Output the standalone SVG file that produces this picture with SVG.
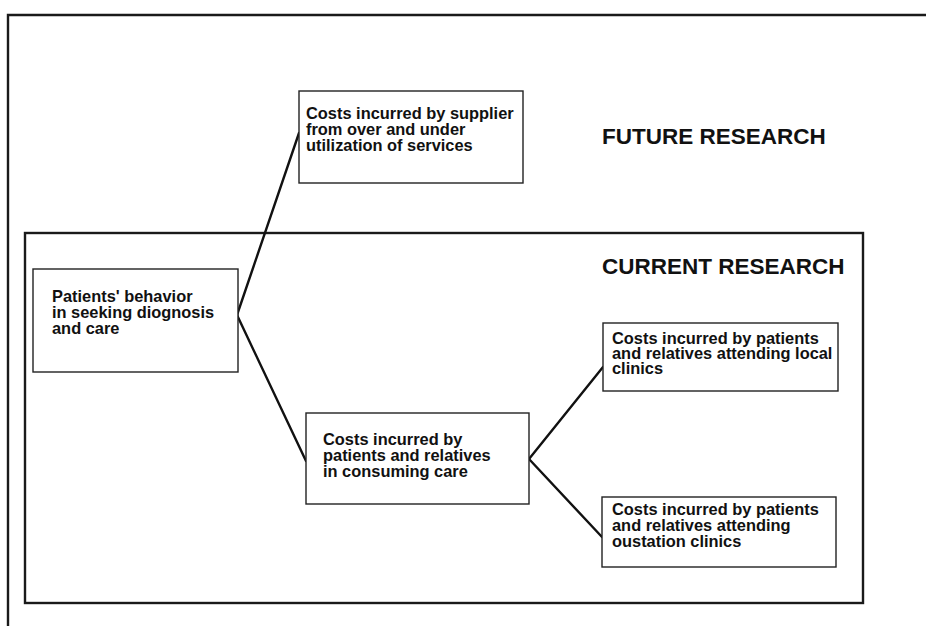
<svg xmlns="http://www.w3.org/2000/svg" width="926" height="626" viewBox="0 0 926 626">
  <style>
    .frame { fill: none; stroke: #1a1a1a; stroke-width: 2.4; }
    .box { fill: #ffffff; stroke: #222; stroke-width: 1.4; }
    .link { fill: none; stroke: #111; stroke-width: 2.4; stroke-linecap: round; }
    .lbl { font-family: "Liberation Sans", Arial, sans-serif; font-weight: bold; font-size: 16.4px; fill: #111; }
    .head { font-family: "Liberation Sans", Arial, sans-serif; font-weight: bold; font-size: 22.5px; fill: #111; }
  </style>
  <rect width="926" height="626" fill="#ffffff"/>

  <!-- outer frame (open on right and bottom) -->
  <polyline class="frame" points="8,626 8,15 926,15"/>
  <!-- current research frame -->
  <rect id="current-frame" class="frame" x="25" y="233" width="838" height="370"/>

  <text class="head" x="602" y="144">FUTURE RESEARCH</text>
  <text class="head" x="602" y="274">CURRENT RESEARCH</text>

  <g id="connectors">
    <line class="link" x1="237" y1="315" x2="299" y2="133"/>
    <line class="link" x1="237" y1="315" x2="306" y2="461"/>
    <line class="link" x1="529" y1="459" x2="603" y2="367"/>
    <line class="link" x1="529" y1="459" x2="602" y2="537"/>
  </g>

  <g id="supplier">
    <rect class="box" x="299" y="91" width="224" height="92"/>
    <text class="lbl" x="306" y="119">Costs incurred by supplier</text>
    <text class="lbl" x="306" y="135">from over and under</text>
    <text class="lbl" x="306" y="151">utilization of services</text>
  </g>

  <g id="patients">
    <rect class="box" x="33" y="269" width="205" height="103"/>
    <text class="lbl" x="52" y="301.5">Patients' behavior</text>
    <text class="lbl" x="52" y="318">in seeking diognosis</text>
    <text class="lbl" x="52" y="334">and care</text>
  </g>

  <g id="consuming">
    <rect class="box" x="306" y="413" width="223" height="91"/>
    <text class="lbl" x="323" y="445">Costs incurred by</text>
    <text class="lbl" x="323" y="461">patients and relatives</text>
    <text class="lbl" x="323" y="476.5">in consuming care</text>
  </g>

  <g id="local">
    <rect class="box" x="603" y="323" width="235" height="68"/>
    <text class="lbl" x="612" y="343.5">Costs incurred by patients</text>
    <text class="lbl" x="612" y="358.5">and relatives attending local</text>
    <text class="lbl" x="612" y="374">clinics</text>
  </g>

  <g id="outstation">
    <rect class="box" x="602" y="497" width="234" height="70"/>
    <text class="lbl" x="612" y="515">Costs incurred by patients</text>
    <text class="lbl" x="612" y="531">and relatives attending</text>
    <text class="lbl" x="612" y="547">oustation clinics</text>
  </g>
</svg>
